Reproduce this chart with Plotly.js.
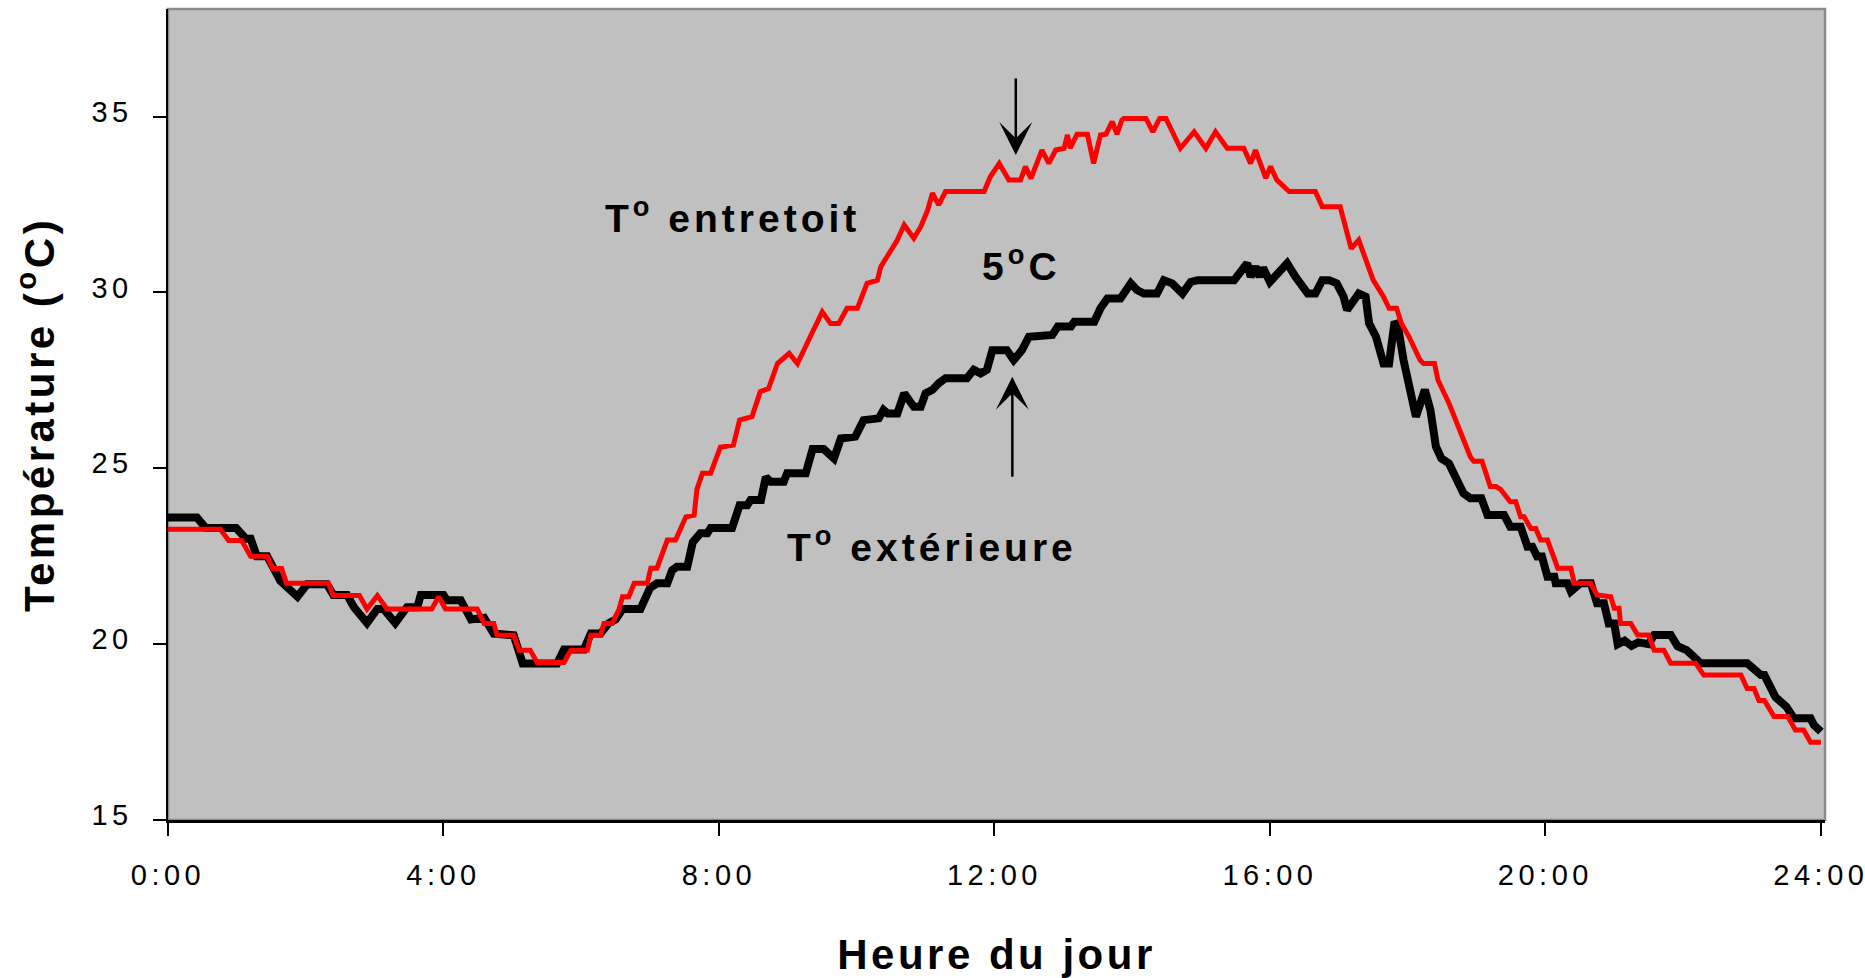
<!DOCTYPE html>
<html>
<head>
<meta charset="utf-8">
<script src="https://cdn.plot.ly/plotly-3.0.1.min.js"></script>
<style>
  html, body { margin: 0; padding: 0; background: #ffffff; }
  #chart { width: 1865px; height: 978px; }
  .xtick text, .ytick text { letter-spacing: 4.5px; }
  .xtitle, .ytitle { letter-spacing: 3.5px; }
  .annotation-text { letter-spacing: 4px; }
</style>
</head>
<body>
<div id="chart"></div>
<script>
// Heures (décimales) et températures
const heuresExt = [0.00,0.42,0.55,0.99,1.13,1.20,1.29,1.44,1.63,1.78,1.88,2.02,2.31,2.40,2.60,2.70,2.89,3.04,3.13,3.30,3.47,3.62,3.67,4.00,4.05,4.25,4.40,4.59,4.73,5.02,5.15,5.65,5.75,6.04,6.14,6.28,6.40,6.50,6.60,6.86,7.00,7.10,7.25,7.32,7.39,7.54,7.62,7.73,7.83,7.88,8.19,8.30,8.41,8.46,8.61,8.68,8.75,8.94,8.99,9.26,9.36,9.52,9.67,9.77,9.98,10.10,10.32,10.39,10.45,10.59,10.69,10.83,10.93,11.00,11.10,11.19,11.29,11.60,11.70,11.80,11.89,11.97,12.18,12.28,12.40,12.50,12.84,12.92,13.11,13.16,13.45,13.54,13.64,13.83,13.98,14.07,14.17,14.36,14.46,14.58,14.73,14.85,14.95,15.48,15.58,15.67,15.72,15.79,15.85,15.90,16.00,16.10,16.25,16.37,16.49,16.55,16.66,16.76,16.86,16.97,17.07,17.12,17.29,17.39,17.44,17.54,17.65,17.73,17.81,17.86,17.94,18.02,18.12,18.25,18.33,18.41,18.49,18.60,18.70,18.81,18.91,19.07,19.16,19.40,19.49,19.64,19.74,19.81,19.88,19.95,20.03,20.13,20.15,20.32,20.37,20.51,20.66,20.75,20.85,20.92,21.00,21.05,21.15,21.25,21.35,21.50,21.58,21.82,21.92,22.05,22.15,22.25,22.93,23.03,23.13,23.18,23.24,23.34,23.50,23.61,23.85,23.90,24.00];
const tempExt = [23.6,23.6,23.3,23.3,23.0,23.0,22.5,22.5,21.8,21.5,21.35,21.7,21.7,21.4,21.4,21.05,20.6,21.0,21.0,20.6,21.05,21.05,21.4,21.4,21.25,21.25,20.7,20.75,20.3,20.25,19.45,19.45,19.85,19.85,20.3,20.3,20.6,20.7,21.0,21.0,21.6,21.73,21.73,22.1,22.2,22.2,22.9,23.15,23.15,23.3,23.3,23.95,23.95,24.1,24.1,24.75,24.62,24.62,24.86,24.86,25.55,25.55,25.28,25.85,25.9,26.37,26.42,26.66,26.56,26.56,27.13,26.75,26.75,27.13,27.23,27.42,27.56,27.56,27.8,27.7,27.8,28.36,28.36,28.08,28.36,28.74,28.79,29.03,29.03,29.17,29.17,29.55,29.83,29.83,30.26,30.07,29.97,29.97,30.35,30.26,29.97,30.3,30.35,30.35,30.64,30.83,30.45,30.73,30.45,30.7,30.3,30.5,30.83,30.45,30.07,29.97,29.97,30.35,30.35,30.26,29.88,29.5,29.97,29.88,29.12,28.74,27.98,27.98,29.17,29.03,28.08,27.32,26.47,27.23,26.66,25.62,25.28,25.14,24.77,24.29,24.15,24.15,23.67,23.67,23.34,23.34,22.77,22.77,22.49,22.49,21.92,21.92,21.73,21.73,21.5,21.73,21.73,21.16,21.16,20.59,20.59,20.0,20.1,19.95,20.05,20.0,20.26,20.26,19.94,19.83,19.65,19.46,19.46,19.27,19.12,19.12,18.88,18.5,18.22,17.89,17.89,17.7,17.51];

const heuresEnt = [0.00,0.76,0.88,1.07,1.20,1.44,1.52,1.65,1.72,2.33,2.40,2.78,2.89,3.04,3.18,3.83,3.93,4.03,4.49,4.59,4.73,4.78,5.02,5.10,5.26,5.36,5.75,5.85,6.09,6.14,6.28,6.33,6.45,6.55,6.60,6.69,6.77,6.96,7.01,7.10,7.25,7.37,7.52,7.64,7.68,7.76,7.88,8.02,8.21,8.30,8.48,8.60,8.72,8.85,9.02,9.14,9.35,9.50,9.62,9.74,9.86,10.01,10.15,10.30,10.35,10.49,10.59,10.69,10.83,10.93,11.03,11.10,11.19,11.29,11.85,11.94,12.07,12.21,12.38,12.45,12.53,12.69,12.79,12.89,13.01,13.06,13.10,13.20,13.35,13.44,13.54,13.62,13.71,13.78,13.85,13.88,14.20,14.30,14.40,14.49,14.70,14.90,15.07,15.21,15.38,15.62,15.72,15.79,15.94,16.01,16.10,16.28,16.66,16.76,17.02,17.18,17.29,17.50,17.65,17.73,17.84,17.91,18.02,18.18,18.23,18.39,18.44,18.60,18.75,18.91,18.96,19.08,19.20,19.28,19.35,19.49,19.57,19.64,19.69,19.79,19.86,19.93,20.03,20.18,20.37,20.42,20.66,20.75,20.95,21.00,21.07,21.09,21.24,21.34,21.50,21.58,21.72,21.82,22.18,22.30,22.84,22.93,23.03,23.10,23.18,23.32,23.52,23.63,23.75,23.85,24.00];
const tempEnt = [23.27,23.27,22.95,22.95,22.5,22.5,22.15,22.15,21.73,21.73,21.38,21.38,21.0,21.38,21.0,21.0,21.35,21.0,21.0,20.59,20.59,20.25,20.25,19.83,19.83,19.48,19.48,19.83,19.83,20.25,20.25,20.59,20.59,21.0,21.35,21.35,21.73,21.73,22.16,22.16,22.96,22.96,23.62,23.67,24.4,24.86,24.86,25.6,25.66,26.37,26.47,27.18,27.27,27.98,28.27,27.98,28.84,29.45,29.12,29.12,29.55,29.55,30.26,30.35,30.73,31.16,31.49,31.92,31.54,31.87,32.34,32.82,32.49,32.87,32.87,33.29,33.67,33.2,33.2,33.58,33.24,34.05,33.67,34.05,34.1,34.48,34.1,34.5,34.5,33.67,34.48,34.5,34.86,34.5,34.9,34.95,34.95,34.57,34.95,34.95,34.1,34.57,34.1,34.57,34.1,34.1,33.67,34.05,33.25,33.58,33.2,32.87,32.87,32.44,32.44,31.25,31.49,30.35,29.88,29.55,29.55,29.12,28.74,28.08,27.98,27.98,27.51,26.85,26.09,25.33,25.2,25.2,24.48,24.48,24.4,24.05,24.05,23.62,23.62,23.29,23.29,22.96,22.96,22.16,22.16,21.73,21.73,21.4,21.35,21.02,21.02,20.59,20.59,20.26,20.26,19.83,19.83,19.46,19.46,19.12,19.12,18.74,18.74,18.4,18.4,17.94,17.94,17.56,17.56,17.21,17.21];

const xTickVals = [0, 4, 8, 12, 16, 20, 24];
const xTickText = ["0:00", "4:00", "8:00", "12:00", "16:00", "20:00", "24:00"];
const yTickVals = [15, 20, 25, 30, 35];

const FONT = "'Liberation Sans', Arial, sans-serif";

const traces = [
  {
    x: heuresExt, y: tempExt, type: 'scatter', mode: 'lines',
    name: 'T° extérieure',
    line: { color: '#000000', width: 8 },
    hoverinfo: 'skip'
  },
  {
    x: heuresEnt, y: tempEnt, type: 'scatter', mode: 'lines',
    name: 'T° entretoit',
    line: { color: '#ff0000', width: 5 },
    hoverinfo: 'skip'
  }
];

const layout = {
  width: 1865, height: 978,
  margin: { l: 168, r: 40, t: 9, b: 158, pad: 0 },
  paper_bgcolor: '#ffffff',
  plot_bgcolor: '#c0c0c0',
  showlegend: false,
  font: { family: FONT, color: '#000000' },
  xaxis: {
    range: [0, 24.06],
    tickmode: 'array', tickvals: xTickVals, ticktext: xTickText,
    ticks: 'outside', ticklen: 13, tickwidth: 2, tickcolor: '#000000',
    showline: true, linecolor: '#000000', linewidth: 2.5,
    showgrid: false, zeroline: false,
    tickfont: { family: FONT, size: 29, color: '#000000' },
    ticklabelstandoff: 15,
    ticklabeloverflow: 'allow',
    title: { text: 'Heure du jour', font: { family: FONT, size: 42, color: '#000000', weight: 'bold' }, standoff: 51 },
    automargin: false
  },
  yaxis: {
    range: [15, 38.06],
    tickmode: 'array', tickvals: yTickVals,
    ticks: 'outside', ticklen: 13, tickwidth: 2, tickcolor: '#000000',
    showline: true, linecolor: '#000000', linewidth: 2.5,
    showgrid: false, zeroline: false,
    tickfont: { family: FONT, size: 29, color: '#000000' },
    ticklabelstandoff: 14,
    ticklabelshift: -5,
    ticklabeloverflow: 'allow',
    title: { text: 'Température (<sup>o</sup>C)', font: { family: FONT, size: 42, color: '#000000', weight: 'bold' }, standoff: 24 },
    automargin: false
  },
  shapes: [
    { type: 'rect', xref: 'paper', yref: 'paper', x0: 0, x1: 1, y0: 0, y1: 1,
      line: { color: '#8a8a8a', width: 2.5 }, layer: 'below' }
  ],
  annotations: [
    { x: 8.2, y: 32.19, xref: 'x', yref: 'y', text: '<b>T<sup>o</sup> entretoit</b>', showarrow: false,
      xanchor: 'center', yanchor: 'middle', font: { family: FONT, size: 39, color: '#000000' } },
    { x: 12.39, y: 30.83, xref: 'x', yref: 'y', text: '<b>5<sup>o</sup>C</b>', showarrow: false,
      xanchor: 'center', yanchor: 'middle', font: { family: FONT, size: 39, color: '#000000' } },
    { x: 11.1, y: 22.84, xref: 'x', yref: 'y', text: '<b>T<sup>o</sup> extérieure</b>', showarrow: false,
      xanchor: 'center', yanchor: 'middle', font: { family: FONT, size: 39, color: '#000000' } },
    { x: 12.31, y: 33.91, xref: 'x', yref: 'y', ax: 12.31, ay: 36.13, axref: 'x', ayref: 'y',
      text: '', showarrow: true, arrowhead: 3, arrowsize: 2.2, arrowwidth: 2.5, arrowcolor: '#000000', standoff: 0 },
    { x: 12.26, y: 27.6, xref: 'x', yref: 'y', ax: 12.26, ay: 24.72, axref: 'x', ayref: 'y',
      text: '', showarrow: true, arrowhead: 3, arrowsize: 2.2, arrowwidth: 2.5, arrowcolor: '#000000', standoff: 0 }
  ]
};

Plotly.newPlot('chart', traces, layout, { displayModeBar: false, staticPlot: true });
</script>
</body>
</html>
